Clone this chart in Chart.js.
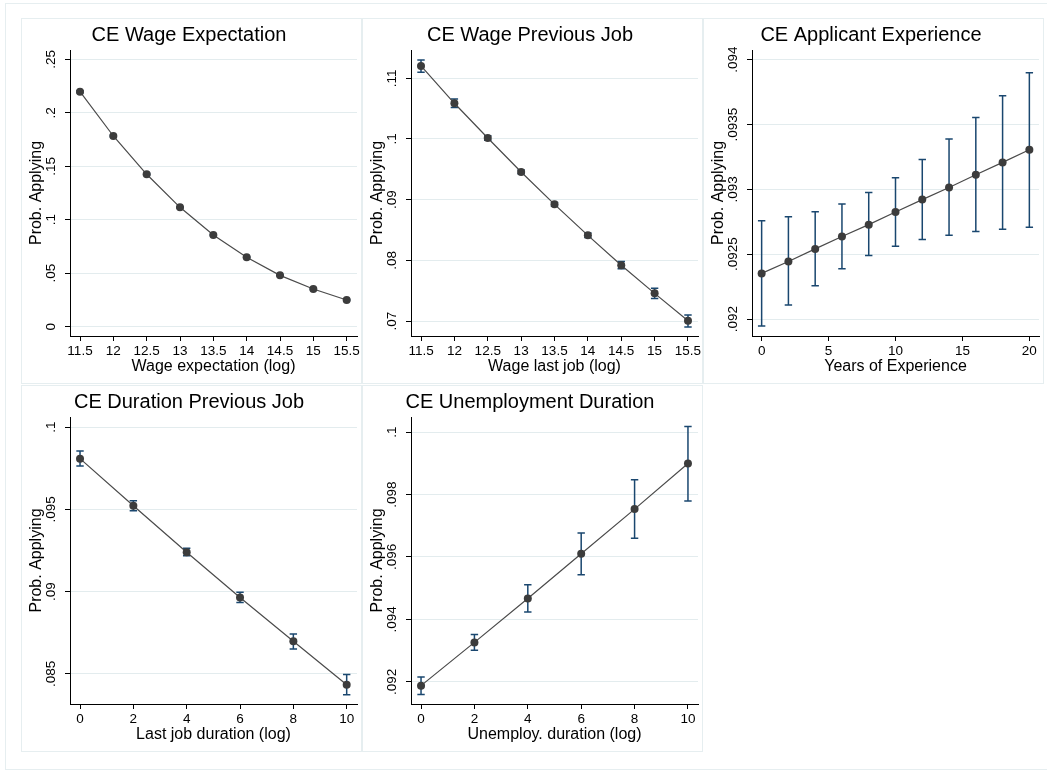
<!DOCTYPE html>
<html>
<head>
<meta charset="utf-8">
<script src="https://cdn.jsdelivr.net/npm/chart.js@4.4.1/dist/chart.umd.min.js"></script>
<style>
  html, body { margin:0; padding:0; background:#fff; overflow:hidden; }
  #frame { position:absolute; left:5px; top:3px; width:1050px; height:767px; border:1px solid #e6eef0; box-sizing:border-box; }
  .panel { position:absolute; border:1px solid #e6eef0; box-sizing:border-box; }
  canvas { position:absolute; }
</style>
</head>
<body>
<div id="frame"></div>
<script>
// CE Wage Expectation
const wageExpX = [11.5, 12, 12.5, 13, 13.5, 14, 14.5, 15, 15.5];
const wageExpY = [0.2197, 0.1783, 0.1425, 0.1116, 0.0857, 0.0649, 0.0480, 0.0352, 0.0250];
const wageExpLo = [0.2187, 0.1775, 0.1418, 0.1110, 0.0852, 0.0645, 0.0476, 0.0348, 0.0246];
const wageExpHi = [0.2207, 0.1791, 0.1432, 0.1122, 0.0862, 0.0653, 0.0484, 0.0356, 0.0254];

// CE Wage Previous Job
const wageLastX = [11.5, 12, 12.5, 13, 13.5, 14, 14.5, 15, 15.5];
const wageLastY = [0.11203, 0.10588, 0.10016, 0.09456, 0.08923, 0.08412, 0.07918, 0.07456, 0.07005];
const wageLastLo = [0.1110, 0.1052, 0.09980, 0.09425, 0.08893, 0.08375, 0.0786, 0.0737, 0.0690];
const wageLastHi = [0.1130, 0.1066, 0.10052, 0.09487, 0.08953, 0.08449, 0.0798, 0.0754, 0.0710];

// CE Applicant Experience
const expX = [0, 2, 4, 6, 8, 10, 12, 14, 16, 18, 20];
const expY = [0.092352, 0.092444, 0.092541, 0.092636, 0.092728, 0.092826, 0.092921, 0.093015, 0.093113, 0.093208, 0.093305];
const expLo = [0.091946, 0.092108, 0.092257, 0.092388, 0.092490, 0.092562, 0.092613, 0.092646, 0.092675, 0.092692, 0.092708];
const expHi = [0.092757, 0.092788, 0.092828, 0.092888, 0.092975, 0.093090, 0.093231, 0.093388, 0.093554, 0.093723, 0.093900];

// CE Duration Previous Job
const durX = [0, 2, 4, 6, 8, 10];
const durY = [0.098078, 0.095219, 0.092397, 0.089641, 0.086983, 0.084349];
const durLo = [0.09763, 0.09491, 0.09218, 0.08934, 0.08652, 0.08374];
const durHi = [0.09854, 0.09552, 0.09264, 0.08996, 0.08743, 0.08496];

// CE Unemployment Duration
const unempX = [0, 2, 4, 6, 8, 10];
const unempY = [0.09188, 0.093265, 0.094671, 0.096106, 0.097534, 0.098993];
const unempLo = [0.09160, 0.09301, 0.09424, 0.09543, 0.09660, 0.09779];
const unempHi = [0.09216, 0.09352, 0.09511, 0.09677, 0.09847, 0.10018];

// tick values and labels
const wageTicks = [11.5, 12, 12.5, 13, 13.5, 14, 14.5, 15, 15.5];
const wageTickLabels = ['11.5', '12', '12.5', '13', '13.5', '14', '14.5', '15', '15.5'];
const expTicks = [0, 5, 10, 15, 20];
const expTickLabels = ['0', '5', '10', '15', '20'];
const durTicks = [0, 2, 4, 6, 8, 10];
const durTickLabels = ['0', '2', '4', '6', '8', '10'];

const wageExpYTicks = [0, 0.05, 0.1, 0.15, 0.2, 0.25];
const wageExpYLabels = ['0', '.05', '.1', '.15', '.2', '.25'];
const wageLastYTicks = [0.07, 0.08, 0.09, 0.1, 0.11];
const wageLastYLabels = ['.07', '.08', '.09', '.1', '.11'];
const expYTicks = [0.092, 0.0925, 0.093, 0.0935, 0.094];
const expYLabels = ['.092', '.0925', '.093', '.0935', '.094'];
const durYTicks = [0.085, 0.09, 0.095, 0.1];
const durYLabels = ['.085', '.09', '.095', '.1'];
const unempYTicks = [0.092, 0.094, 0.096, 0.098, 0.1];
const unempYLabels = ['.092', '.094', '.096', '.098', '.1'];

const FONT = "'Liberation Sans', Arial, sans-serif";
const NAVY = '#1a476f';

// confidence intervals as capped spikes, drawn under the markers
function errorBarPlugin(xs, lo, hi) {
  return {
    id: 'errorBars',
    beforeDatasetsDraw(chart) {
      const ctx = chart.ctx, sx = chart.scales.x, sy = chart.scales.y;
      ctx.save();
      ctx.strokeStyle = NAVY;
      ctx.lineWidth = 1.5;
      xs.forEach((xv, i) => {
        const px = sx.getPixelForValue(xv);
        const top = sy.getPixelForValue(hi[i]);
        const bot = sy.getPixelForValue(lo[i]);
        ctx.beginPath();
        ctx.moveTo(px, top); ctx.lineTo(px, bot);
        ctx.moveTo(px - 3.7, top); ctx.lineTo(px + 3.7, top);
        ctx.moveTo(px - 3.7, bot); ctx.lineTo(px + 3.7, bot);
        ctx.stroke();
      });
      ctx.restore();
    }
  };
}

// stata style vertical y tick labels
function yLabelPlugin(labels) {
  return {
    id: 'yRotLabels',
    afterDraw(chart) {
      const ctx = chart.ctx, sy = chart.scales.y;
      ctx.save();
      ctx.font = '13.5px ' + FONT;
      ctx.fillStyle = '#000';
      ctx.textAlign = 'center';
      ctx.textBaseline = 'middle';
      sy.ticks.forEach((t, i) => {
        ctx.save();
        ctx.translate(chart.chartArea.left - 19, sy.getPixelForValue(t.value));
        ctx.rotate(-Math.PI / 2);
        ctx.fillText(labels[i], 0, 0);
        ctx.restore();
      });
      ctx.restore();
    }
  };
}

function makePanel(p) {
  const box = document.createElement('div');
  box.className = 'panel';
  box.style.left = p.left + 'px'; box.style.top = p.top + 'px';
  box.style.width = p.w + 'px'; box.style.height = p.h + 'px';
  document.body.appendChild(box);

  const cv = document.createElement('canvas');
  cv.width = p.w; cv.height = p.h;
  cv.style.left = p.left + 'px'; cv.style.top = p.top + 'px';
  document.body.appendChild(cv);

  new Chart(cv, {
    type: 'scatter',
    data: {
      datasets: [{
        data: p.xs.map((x, i) => ({ x: x, y: p.ys[i] })),
        showLine: true,
        borderColor: '#4a4a4a',
        borderWidth: 1.2,
        pointRadius: 4,
        pointHoverRadius: 4,
        pointBackgroundColor: '#3c3c3c',
        pointBorderWidth: 0,
        tension: 0
      }]
    },
    options: {
      responsive: false,
      animation: false,
      events: [],
      layout: { autoPadding: false, padding: { left: 0, right: 5, top: 0, bottom: 0 } },
      plugins: {
        legend: { display: false },
        tooltip: { enabled: false },
        title: {
          display: true, text: p.title, color: '#000',
          font: { size: 20, family: FONT, weight: 'normal' },
          padding: { top: 5, bottom: 3 }
        }
      },
      scales: {
        x: {
          type: 'linear', min: p.xMin, max: p.xMax,
          afterBuildTicks: s => { s.ticks = p.xTicks.map(v => ({ value: v })); },
          afterFit: s => { s.height = 48; s.paddingLeft = 0; s.paddingRight = 0; },
          ticks: {
            color: '#000', font: { size: 13.5, family: FONT }, padding: 2,
            minRotation: 0, maxRotation: 0, autoSkip: false,
            callback: (v, i) => p.xLabels[i]
          },
          grid: { drawOnChartArea: false, drawTicks: true, tickLength: 5, tickColor: '#000', tickWidth: 1 },
          border: { color: '#000', width: 1 },
          title: {
            display: true, text: p.xTitle, color: '#000',
            font: { size: 16, family: FONT }, padding: { top: 0, bottom: 8 }
          }
        },
        y: {
          type: 'linear', min: p.yMin, max: p.yMax,
          afterBuildTicks: s => { s.ticks = p.yTicks.map(v => ({ value: v })); },
          afterFit: s => { s.width = 49; s.paddingTop = 0; s.paddingBottom = 0; },
          ticks: { display: false },
          grid: { color: '#e3ecee', lineWidth: 1, drawTicks: true, tickLength: 5, tickColor: '#000', tickWidth: 1 },
          border: { color: '#000', width: 1 },
          title: {
            display: true, text: 'Prob. Applying', color: '#000',
            font: { size: 16, family: FONT }, padding: { top: 6, bottom: 0 }
          }
        }
      }
    },
    plugins: [errorBarPlugin(p.xs, p.lo, p.hi), yLabelPlugin(p.yLabels)]
  });
}

makePanel({
  left: 21, top: 18, w: 341, h: 366,
  title: 'CE Wage Expectation', xTitle: 'Wage expectation (log)',
  xs: wageExpX, ys: wageExpY, lo: wageExpLo, hi: wageExpHi,
  xMin: 11.35, xMax: 15.655, xTicks: wageTicks, xLabels: wageTickLabels,
  yMin: -0.0087, yMax: 0.2587, yTicks: wageExpYTicks, yLabels: wageExpYLabels
});
makePanel({
  left: 362, top: 18, w: 341, h: 366,
  title: 'CE Wage Previous Job', xTitle: 'Wage last job (log)',
  xs: wageLastX, ys: wageLastY, lo: wageLastLo, hi: wageLastHi,
  xMin: 11.35, xMax: 15.65, xTicks: wageTicks, xLabels: wageTickLabels,
  yMin: 0.06753, yMax: 0.11466, yTicks: wageLastYTicks, yLabels: wageLastYLabels
});
makePanel({
  left: 703, top: 18, w: 341, h: 366,
  title: 'CE Applicant Experience', xTitle: 'Years of Experience',
  xs: expX, ys: expY, lo: expLo, hi: expHi,
  xMin: -0.72, xMax: 20.72, xTicks: expTicks, xLabels: expTickLabels,
  yMin: 0.091869, yMax: 0.094075, yTicks: expYTicks, yLabels: expYLabels
});
makePanel({
  left: 21, top: 385, w: 341, h: 367,
  title: 'CE Duration Previous Job', xTitle: 'Last job duration (log)',
  xs: durX, ys: durY, lo: durLo, hi: durHi,
  xMin: -0.376, xMax: 10.387, xTicks: durTicks, xLabels: durTickLabels,
  yMin: 0.083175, yMax: 0.100608, yTicks: durYTicks, yLabels: durYLabels
});
makePanel({
  left: 362, top: 385, w: 341, h: 367,
  title: 'CE Unemployment Duration', xTitle: 'Unemploy. duration (log)',
  xs: unempX, ys: unempY, lo: unempLo, hi: unempHi,
  xMin: -0.376, xMax: 10.376, xTicks: durTicks, xLabels: durTickLabels,
  yMin: 0.091292, yMax: 0.100483, yTicks: unempYTicks, yLabels: unempYLabels
});
</script>
</body>
</html>
